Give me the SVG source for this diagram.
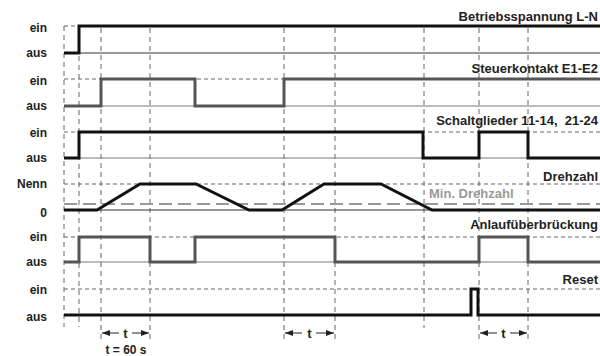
<svg xmlns="http://www.w3.org/2000/svg" width="600" height="356" viewBox="0 0 600 356">
  <defs>
    <style>
      .lbl { font-family: "Liberation Sans", Arial, sans-serif; font-weight: bold; font-size: 12px; fill: #222; }
      .left { text-anchor: end; }
      .right { text-anchor: end; font-size: 13px; }
      .tlbl { text-anchor: middle; font-size: 13px; }
      .minlbl { font-size: 13px; fill: #999; }
      .vgrid { stroke: #666; stroke-width: 1; stroke-dasharray: 5 4; fill: none; }
      .hgrid { stroke: #666; stroke-width: 1; stroke-dasharray: 4 3; fill: none; }
      .base { stroke: #333; stroke-width: 1; fill: none; }
      .baseg { stroke: #777; stroke-width: 1; fill: none; }
      .sig { stroke: #111; stroke-width: 3; fill: none; stroke-linejoin: miter; }
      .sigg { stroke: #555; stroke-width: 3; fill: none; stroke-linejoin: miter; }
      .tarrow { stroke: #222; stroke-width: 1; fill: none; marker-end: url(#ah); }
    </style>
    <marker id="ah" viewBox="0 0 8 6" refX="8" refY="3" markerWidth="8" markerHeight="6" markerUnits="userSpaceOnUse" orient="auto">
      <path d="M0,0 L8,3 L0,6 z" fill="#222"/>
    </marker>
  </defs>
  <rect width="600" height="356" fill="#fff"/>

  <!-- time markers -->
  <g id="connectors">
    <line class="vgrid" x1="64" y1="26" x2="64" y2="327"/>
    <line class="vgrid" x1="79" y1="56" x2="79" y2="327"/>
    <line class="vgrid" x1="101" y1="28" x2="101" y2="340"/>
    <line class="vgrid" x1="150" y1="28" x2="150" y2="340"/>
    <line class="vgrid" x1="284" y1="28" x2="284" y2="340"/>
    <line class="vgrid" x1="335" y1="28" x2="335" y2="340"/>
    <line class="vgrid" x1="424" y1="28" x2="424" y2="328"/>
    <line class="vgrid" x1="479" y1="28" x2="479" y2="340"/>
    <line class="vgrid" x1="528" y1="28" x2="528" y2="340"/>

    <!-- t intervals -->
    <line class="tarrow" x1="119" y1="333" x2="102" y2="333"/>
    <line class="tarrow" x1="132" y1="333" x2="149" y2="333"/>
    <line class="tarrow" x1="302" y1="333" x2="285" y2="333"/>
    <line class="tarrow" x1="316" y1="333" x2="334" y2="333"/>
    <line class="tarrow" x1="497" y1="333" x2="480" y2="333"/>
    <line class="tarrow" x1="510" y1="333" x2="527" y2="333"/>
  </g>
  <text class="lbl tlbl" x="125.5" y="338">t</text>
  <text class="lbl tlbl" x="309.5" y="338">t</text>
  <text class="lbl tlbl" x="503.5" y="338">t</text>
  <text class="lbl" x="126" y="354" text-anchor="middle">t = 60 s</text>

  <!-- Betriebsspannung L-N -->
  <g id="row-betriebsspannung">
    <line class="hgrid" x1="64" y1="26" x2="600" y2="26"/>
    <line class="base" x1="64" y1="53" x2="600" y2="53"/>
    <polyline class="sig" points="64,53 79,53 79,26 600,26"/>
    <text class="lbl left" x="47" y="32">ein</text>
    <text class="lbl left" x="47" y="57">aus</text>
    <text class="lbl right" x="598" y="21">Betriebsspannung L-N</text>
  </g>

  <!-- Steuerkontakt E1-E2 -->
  <g id="row-steuerkontakt">
    <line class="hgrid" x1="64" y1="79" x2="600" y2="79"/>
    <line class="baseg" x1="64" y1="106" x2="600" y2="106"/>
    <polyline class="sigg" stroke="#666" points="64,106 101,106 101,79 195,79 195,106 284,106 284,79 600,79"/>
    <text class="lbl left" x="47" y="85">ein</text>
    <text class="lbl left" x="47" y="110">aus</text>
    <text class="lbl right" x="598" y="73">Steuerkontakt E1-E2</text>
  </g>

  <!-- Schaltglieder -->
  <g id="row-schaltglieder">
    <line class="hgrid" x1="64" y1="132" x2="600" y2="132"/>
    <line class="baseg" x1="64" y1="158" x2="600" y2="158"/>
    <polyline class="sig" points="64,158 79,158 79,132 423,132 423,158 479,158 479,132 528,132 528,158 600,158"/>
    <text class="lbl left" x="47" y="137">ein</text>
    <text class="lbl left" x="47" y="162">aus</text>
    <text class="lbl right" x="598" y="125" xml:space="preserve">Schaltglieder 11-14,  21-24</text>
  </g>

  <!-- Drehzahl -->
  <g id="row-drehzahl">
    <line class="hgrid" x1="64" y1="184" x2="600" y2="184"/>
    <line stroke="#999" stroke-width="2" stroke-dasharray="13 6" x1="64" y1="204" x2="600" y2="204"/>
    <line class="base" x1="64" y1="210" x2="600" y2="210"/>
    <polyline class="sig" points="64,210 97,210 140,184 196,184 249,210 282,210 324,184 381,184 432,210 600,210"/>
    <text class="lbl left" x="47" y="188">Nenn</text>
    <text class="lbl left" x="47" y="217">0</text>
    <text class="lbl right" x="598" y="181">Drehzahl</text>
    <text class="lbl minlbl" x="429" y="198">Min. Drehzahl</text>
  </g>

  <!-- Anlaufüberbrückung -->
  <g id="row-anlauf">
    <line class="hgrid" x1="64" y1="237" x2="600" y2="237"/>
    <line class="baseg" x1="64" y1="262" x2="600" y2="262"/>
    <polyline class="sigg" points="64,262 79,262 79,237 150,237 150,262 195,262 195,237 335,237 335,262 479,262 479,237 528,237 528,262 600,262"/>
    <text class="lbl left" x="47" y="241">ein</text>
    <text class="lbl left" x="47" y="266">aus</text>
    <text class="lbl right" x="598" y="229">Anlaufüberbrückung</text>
  </g>

  <!-- Reset -->
  <g id="row-reset">
    <line class="hgrid" x1="64" y1="289" x2="600" y2="289"/>
    <polyline class="sig" points="64,315 471,315 471,289 478,289 478,315 600,315"/>
    <text class="lbl left" x="47" y="294">ein</text>
    <text class="lbl left" x="47" y="321">aus</text>
    <text class="lbl right" x="598" y="284">Reset</text>
  </g>
</svg>
